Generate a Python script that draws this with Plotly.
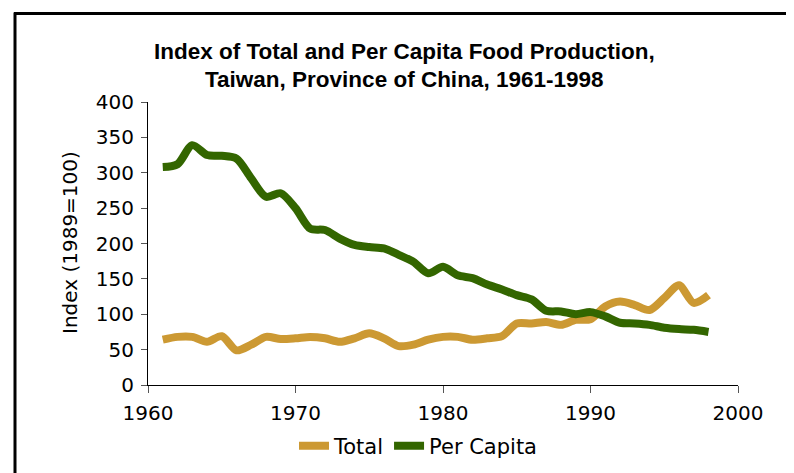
import plotly.graph_objects as go

years = list(range(1961, 1999))
total = [64, 68, 68, 61, 69, 49, 57, 68, 65, 66, 68, 66, 61, 66, 73, 66, 55, 57, 64, 68,
         68, 64, 66, 69, 87, 87, 89, 85, 92, 93, 111, 118, 113, 106, 123, 141, 116, 127]
per_capita = [308, 312, 339, 325, 324, 320, 292, 266, 271, 250, 221, 219, 207, 198, 195, 193,
              184, 174, 158, 167, 155, 151, 142, 135, 127, 121, 105, 104, 100, 103, 97, 88,
              87, 85, 81, 79, 78, 75]
x_ticks = [1960, 1970, 1980, 1990, 2000]
y_ticks = [0, 50, 100, 150, 200, 250, 300, 350, 400]
title_lines = ["Index of Total and Per Capita Food Production,",
               "Taiwan, Province of China, 1961-1998"]
y_title = "Index (1989=100)"

FONT = "DejaVu Sans, Liberation Sans, Arial, sans-serif"
TFONT = "Liberation Sans, Arial, sans-serif"

fig = go.Figure()
fig.add_trace(go.Scatter(x=years, y=total, name="Total", mode="lines",
                         line=dict(color="#CC9933", width=8, shape="spline", smoothing=0.8)))
fig.add_trace(go.Scatter(x=years, y=per_capita, name="Per Capita", mode="lines",
                         line=dict(color="#336600", width=8, shape="spline", smoothing=0.8)))

# page coordinates of the plot area (page has an 8px body margin)
OFF = 8
L, R, T, B = 148, 738, 102, 385
W, H = 794 - OFF, 473 - OFF
pw, ph = R - L, B - T


def px(x):
    return (x - L) / pw


def py(y):
    return (B - y) / ph


def cx(x):
    return (x - OFF) / W


def cy(y):
    return 1 - (y - OFF) / H


# outer frame (only left and top lines visible)
fig.add_shape(type="line", xref="paper", yref="paper", x0=px(15), x1=px(15), y0=py(12.5), y1=py(490),
              line=dict(color="black", width=3))
fig.add_shape(type="line", xref="paper", yref="paper", x0=px(14), x1=px(810), y0=py(13.5), y1=py(13.5),
              line=dict(color="black", width=3))

# title lines
for txt, yy in zip(title_lines, [51, 80]):
    fig.add_annotation(text="<b>" + txt + "</b>", xref="paper", yref="paper",
                       x=px(404), y=py(yy), xanchor="center", yanchor="middle",
                       showarrow=False, font=dict(family=TFONT, size=22.5, color="black"))

# y-axis title
fig.add_annotation(text=y_title, xref="paper", yref="paper", x=px(70), y=py(243),
                   xanchor="center", yanchor="middle", textangle=-90, showarrow=False,
                   font=dict(family=FONT, size=20, color="black"))

fig.update_layout(
    width=W, height=H,
    margin=dict(l=L - OFF, r=W - (R - OFF), t=T - OFF, b=H - (B - OFF), pad=0, autoexpand=False),
    paper_bgcolor="white", plot_bgcolor="white",
    font=dict(family=FONT, color="black", size=20),
    xaxis=dict(range=[1960, 2000], tickvals=x_ticks, showgrid=False, zeroline=False,
               showline=True, linecolor="black", linewidth=1, ticks="outside", ticklen=7,
               tickcolor="#555555", tickfont=dict(size=20), ticklabelstandoff=3),
    yaxis=dict(range=[0, 400], tickvals=y_ticks, showgrid=False, zeroline=False,
               showline=True, linecolor="black", linewidth=1, ticks="outside", ticklen=6,
               tickcolor="#555555", tickfont=dict(size=20), ticklabelstandoff=3),
    legend=dict(orientation="h", xref="container", yref="container",
                x=cx(418), xanchor="center", y=cy(446), yanchor="middle",
                font=dict(size=21), tracegroupgap=0, bgcolor="rgba(0,0,0,0)"),
    showlegend=True,
)

fig.write_html("out.html")
